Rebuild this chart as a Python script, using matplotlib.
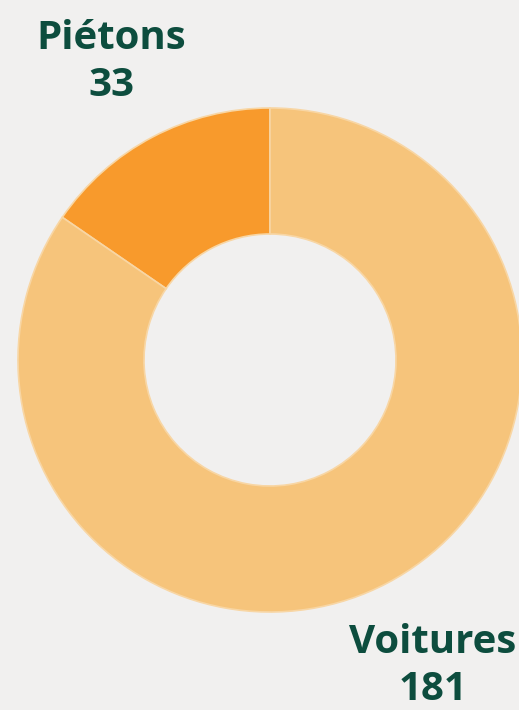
import matplotlib.pyplot as plt

# data
labels = ["Piétons", "Voitures"]
values = [33, 181]
colors = ["#f89a2c", "#f6c47b"]

W, H = 519, 710
bg = "#f1f0ef"
txt_col = "#0d4d3e"

fig = plt.figure(figsize=(W / 100, H / 100), dpi=100, facecolor=bg)
ax = fig.add_axes([0, 0, 1, 1])
ax.set_facecolor(bg)

# donut, Piétons first going counter-clockwise from 12 o'clock
cx, cy, r = 270, H - 360, 252
ax.pie(values, colors=colors, startangle=90, counterclock=True,
       center=(cx, cy), radius=r, frame=True,
       wedgeprops=dict(width=r * 0.5, edgecolor="#f8d6a4", linewidth=1.2))
ax.set_xlim(0, W)
ax.set_ylim(0, H)
ax.set_aspect("equal")
ax.axis("off")

font = dict(family="Open Sans", fontweight="bold", fontsize=29, color=txt_col,
            ha="center", va="baseline")

# labels: name on first line, value on second
label_pos = {"Piétons": (111, 49), "Voitures": (433, 653)}
for lab, val in zip(labels, values):
    x, y = label_pos[lab]
    ax.text(x, H - y, lab, **font)
    ax.text(x, H - y - 47, str(val), **font)

fig.savefig("out.png", dpi=100, facecolor=bg)
